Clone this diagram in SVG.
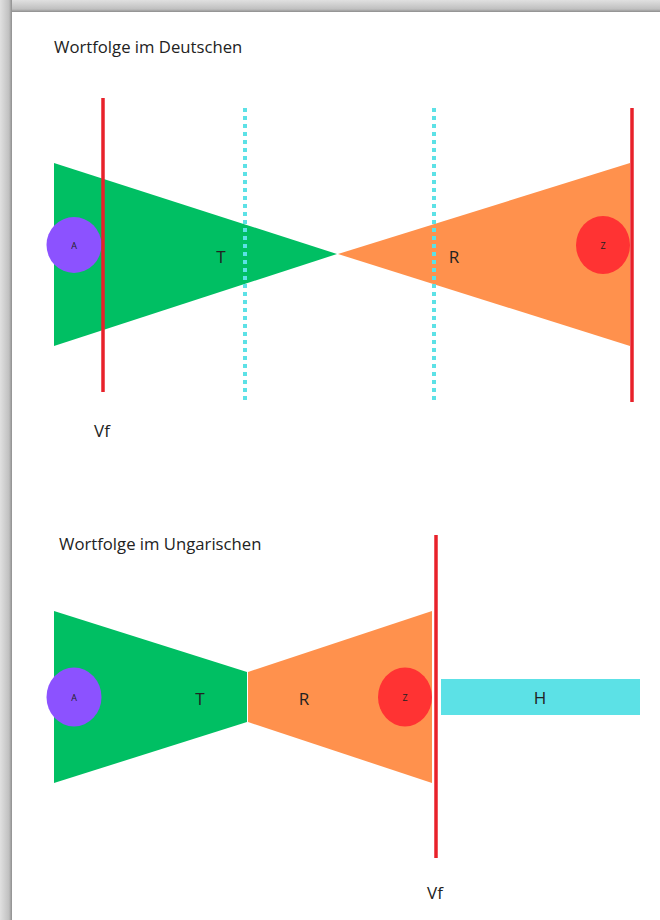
<svg xmlns="http://www.w3.org/2000/svg" width="660" height="920" viewBox="0 0 660 920">
<defs>
<linearGradient id="gtop" x1="0" y1="0" x2="0" y2="1">
<stop offset="0" stop-color="#e0e0e0"/><stop offset="0.75" stop-color="#c0c0c0"/><stop offset="1" stop-color="#8e8e8e"/>
</linearGradient>
<linearGradient id="gleft" x1="0" y1="0" x2="1" y2="0">
<stop offset="0" stop-color="#e0e0e0"/><stop offset="0.75" stop-color="#c0c0c0"/><stop offset="1" stop-color="#8e8e8e"/>
</linearGradient>
</defs>
<style>
text{font-family:"Open Sans","Liberation Sans",sans-serif;fill:#222;}
.title{font-size:16.7px;}
.lbl{font-size:17px;text-anchor:middle;dominant-baseline:central;}
.small{font-size:9px;text-anchor:middle;dominant-baseline:central;}
.green{fill:#00bf63;}
.orange{fill:#ff914d;}
.purple{fill:#8c52ff;}
.redc{fill:#ff3333;}
.vline{stroke:#e8212a;stroke-width:3.5;}
.dots{stroke:#5ce1e6;stroke-width:4;stroke-dasharray:4 4;}
</style>
<rect width="660" height="920" fill="#ffffff"/>
<rect x="0" y="0" width="660" height="12" fill="url(#gtop)"/>
<rect x="0" y="0" width="12" height="920" fill="url(#gleft)"/>

<text class="title" x="54" y="53">Wortfolge im Deutschen</text>

<g id="de-T">
<polygon class="green" points="54,163 54,346 337,254"/>
<text class="lbl" x="221" y="256">T</text>
</g>
<g id="de-R">
<polygon class="orange" points="338,254 630,163 630,346"/>
<text class="lbl" x="454" y="256">R</text>
</g>
<g id="de-A">
<ellipse class="purple" cx="74" cy="245" rx="27.5" ry="28"/>
<text class="small" x="74" y="245">A</text>
</g>
<g id="de-Z">
<ellipse class="redc" cx="603" cy="245" rx="27" ry="29"/>
<text class="small" x="603" y="245">Z</text>
</g>
<g id="de-lines">
<line class="vline" x1="103" y1="98" x2="103" y2="392"/>
<line class="vline" x1="632" y1="108" x2="632" y2="402"/>
<line class="dots" x1="245" y1="108" x2="245" y2="402"/>
<line class="dots" x1="434" y1="108" x2="434" y2="402"/>
</g>
<text class="lbl" x="102" y="430">Vf</text>

<text class="title" x="59" y="550">Wortfolge im Ungarischen</text>

<g id="hu-T">
<polygon class="green" points="54,611 54,783 247,722 247,672"/>
<text class="lbl" x="200" y="698">T</text>
</g>
<g id="hu-R">
<polygon class="orange" points="248,672 248,722 432,783 432,611"/>
<text class="lbl" x="304" y="698">R</text>
</g>
<g id="hu-A">
<ellipse class="purple" cx="74" cy="697" rx="27.5" ry="29.5"/>
<text class="small" x="74" y="697">A</text>
</g>
<g id="hu-Z">
<ellipse class="redc" cx="405" cy="697" rx="27" ry="29.5"/>
<text class="small" x="405" y="697">Z</text>
</g>
<g id="hu-H">
<rect x="441" y="679" width="199" height="36" fill="#5ce1e6"/>
<text class="lbl" x="540" y="697">H</text>
</g>
<g id="hu-lines">
<line class="vline" x1="436" y1="535" x2="436" y2="858"/>
</g>
<text class="lbl" x="435" y="892">Vf</text>
</svg>
